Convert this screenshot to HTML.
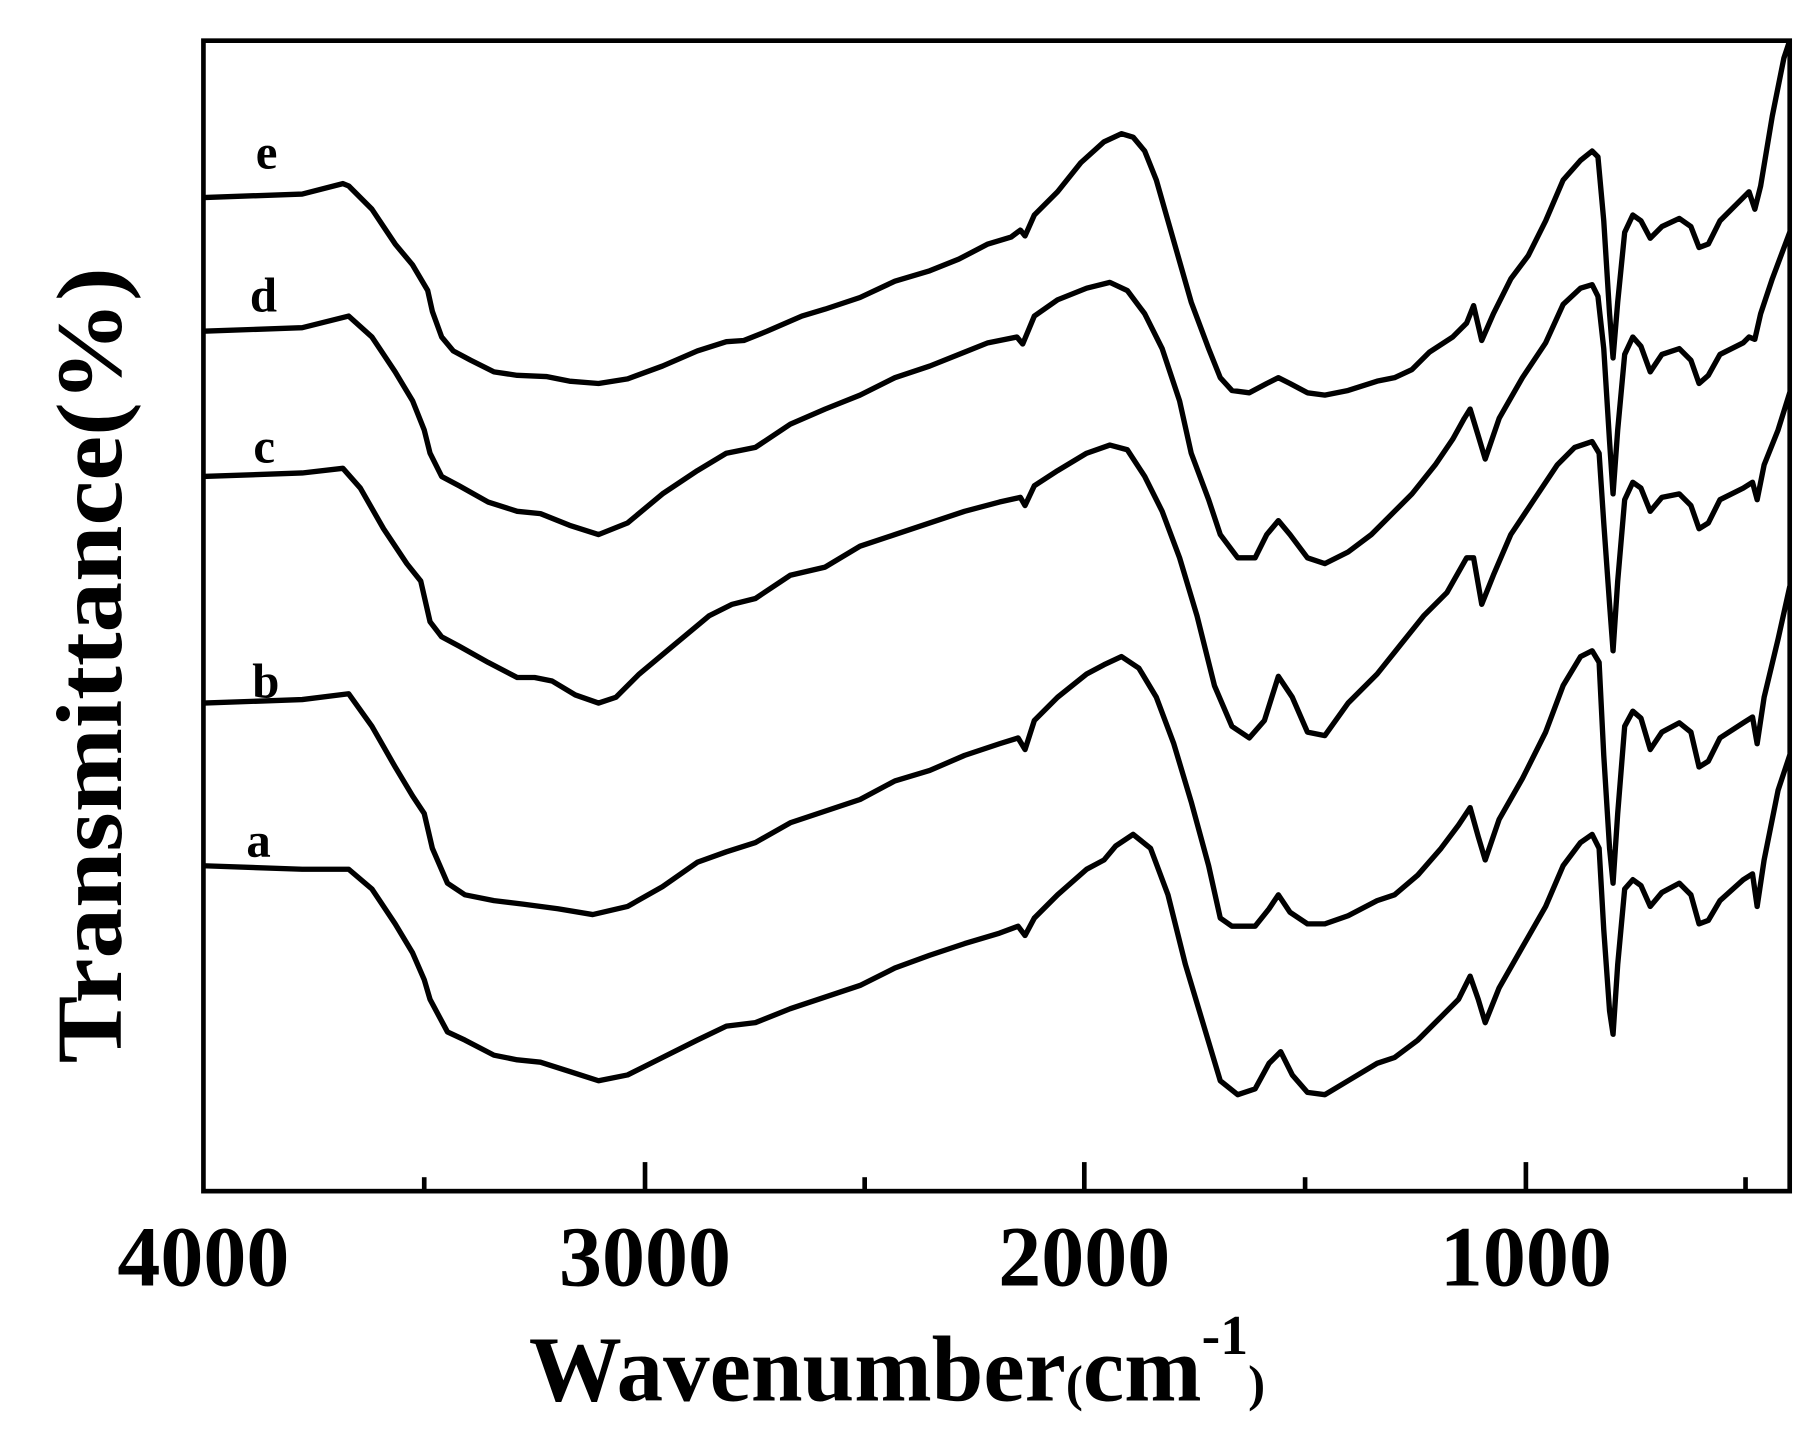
<!DOCTYPE html>
<html><head><meta charset="utf-8"><style>html,body{margin:0;padding:0;background:#fff}svg{display:block}</style></head><body>
<svg width="1813" height="1441" viewBox="0 0 1560 1240" xmlns="http://www.w3.org/2000/svg">
<rect width="1560" height="1240" fill="#fff"/>
<defs><clipPath id="c"><rect x="175" y="35" width="1365" height="990"/></clipPath></defs>
<g clip-path="url(#c)" fill="none" stroke="#000" stroke-width="4.6" stroke-linejoin="round" stroke-linecap="round">
<polyline points="175,170 260,167 295,158 300,160 320,180 340,210 355,228 368,250 372,268 380,290 390,302 405,310 425,320 445,323 470,324 490,328 515,330 540,326 570,315 600,302 625,294 640,293 660,285 690,272 710,266 740,256 770,242 800,233 825,223 850,210 870,204 878,198 882,203 890,185 910,165 930,140 950,122 965,115 975,118 985,130 995,155 1005,190 1015,225 1025,260 1040,300 1050,325 1060,336 1075,338 1090,330 1100,325 1110,330 1125,338 1140,340 1160,336 1185,328 1200,325 1215,318 1230,303 1250,290 1262,278 1268,263 1275,293 1285,270 1300,240 1315,220 1330,190 1345,155 1360,138 1370,130 1375,135 1380,190 1385,270 1388,308 1392,260 1398,200 1405,185 1412,190 1420,205 1430,195 1445,188 1455,195 1462,213 1470,210 1480,190 1495,175 1505,165 1510,180 1515,160 1525,100 1535,50 1540,35"/>
<polyline points="175,285 260,282 300,272 320,290 340,320 355,345 365,370 370,390 380,410 395,418 420,432 445,440 465,442 490,452 515,460 540,450 570,425 600,405 625,390 650,385 680,365 710,352 740,340 770,325 800,315 830,303 850,295 875,290 880,296 890,272 910,258 935,248 955,243 970,250 985,270 1000,300 1015,345 1025,390 1040,430 1050,460 1065,480 1080,480 1090,460 1100,448 1110,460 1125,480 1140,485 1160,475 1180,460 1195,445 1215,425 1235,400 1250,378 1260,360 1265,352 1272,375 1278,395 1290,360 1310,325 1330,295 1345,262 1360,248 1370,245 1375,255 1380,300 1385,380 1388,425 1392,370 1398,305 1405,290 1412,298 1420,320 1430,305 1445,300 1455,310 1462,330 1470,323 1480,305 1500,295 1505,290 1510,292 1515,270 1525,240 1540,200"/>
<polyline points="175,410 260,407 295,403 310,420 330,455 350,485 362,500 370,535 380,548 395,556 420,570 445,583 460,583 475,586 495,598 515,605 530,600 550,580 580,555 610,530 630,520 650,515 680,495 710,488 740,470 770,460 800,450 830,440 860,432 878,428 882,435 890,418 910,405 935,390 955,383 970,387 985,410 1000,440 1015,480 1030,530 1045,590 1060,625 1075,635 1088,620 1100,582 1112,600 1125,630 1140,633 1160,605 1185,580 1205,555 1225,530 1245,510 1262,480 1268,480 1275,520 1285,495 1300,460 1320,430 1340,400 1355,385 1370,380 1376,390 1380,450 1385,520 1388,560 1392,500 1398,430 1405,415 1412,420 1420,440 1430,428 1445,425 1455,435 1462,455 1470,450 1480,430 1500,420 1508,415 1512,430 1518,400 1530,370 1540,338"/>
<polyline points="175,605 260,602 300,597 320,625 340,660 355,685 365,700 372,730 385,760 400,770 425,775 450,778 480,782 510,787 540,780 570,763 600,742 625,733 650,725 680,708 710,698 740,688 770,672 800,663 830,650 860,640 876,635 882,645 890,620 910,600 935,580 950,572 965,565 980,575 995,600 1010,640 1025,690 1040,745 1050,790 1060,797 1080,797 1092,782 1100,770 1110,785 1125,795 1140,795 1160,788 1185,775 1200,770 1220,753 1240,730 1255,710 1265,695 1272,720 1278,740 1290,705 1310,670 1330,630 1345,590 1360,565 1370,560 1376,570 1380,650 1385,730 1388,760 1392,700 1398,625 1405,612 1412,618 1420,645 1430,630 1445,622 1455,630 1462,660 1470,655 1480,635 1500,622 1508,617 1512,640 1518,600 1530,550 1540,505"/>
<polyline points="175,745 260,748 300,748 320,765 340,795 355,820 365,843 370,860 385,888 400,895 425,908 445,912 465,914 490,922 515,930 540,925 570,910 600,895 625,883 650,880 680,868 710,858 740,848 770,833 800,822 830,812 860,803 876,797 882,805 890,790 910,770 935,748 950,740 960,728 975,718 990,730 1005,770 1020,830 1035,880 1050,930 1065,942 1080,937 1092,915 1102,905 1112,925 1125,940 1140,942 1160,930 1185,915 1200,910 1220,895 1240,875 1255,860 1265,840 1272,860 1278,880 1290,850 1310,815 1330,780 1345,745 1360,725 1370,718 1376,730 1380,800 1385,870 1388,890 1392,830 1398,765 1405,757 1412,762 1420,780 1430,768 1445,760 1455,770 1462,795 1470,792 1480,775 1500,757 1508,752 1512,780 1518,740 1530,680 1540,650"/>
</g>
<rect x="175" y="35" width="1365" height="990" fill="none" stroke="#000" stroke-width="4"/>
<g stroke="#000" stroke-width="4">
<line x1="365" y1="1025" x2="365" y2="1013"/><line x1="555" y1="1025" x2="555" y2="1000"/>
<line x1="744" y1="1025" x2="744" y2="1013"/><line x1="933" y1="1025" x2="933" y2="1000"/>
<line x1="1123" y1="1025" x2="1123" y2="1013"/><line x1="1313" y1="1025" x2="1313" y2="1000"/>
<line x1="1502" y1="1025" x2="1502" y2="1013"/>
</g>
<g font-family="Liberation Serif, serif" font-weight="bold" fill="#000">
<g font-size="74" text-anchor="middle">
<text x="175" y="1106" textLength="148" lengthAdjust="spacingAndGlyphs">4000</text><text x="555" y="1106" textLength="148" lengthAdjust="spacingAndGlyphs">3000</text>
<text x="933" y="1106" textLength="148" lengthAdjust="spacingAndGlyphs">2000</text><text x="1313" y="1106" textLength="148" lengthAdjust="spacingAndGlyphs">1000</text>
</g>
<text x="455" y="1205" font-size="80">Wavenumber<tspan font-size="44">(</tspan>cm<tspan font-size="48" dy="-40">-1</tspan><tspan font-size="44" dy="40">)</tspan></text>
<text transform="translate(104,915) rotate(-90)" font-size="80" textLength="685" lengthAdjust="spacingAndGlyphs">Transmittance(%)</text>
<g font-size="42">
<text x="220" y="145">e</text><text x="215" y="268">d</text><text x="218" y="398">c</text>
<text x="217" y="600">b</text><text x="212" y="737">a</text>
</g>
</g>
</svg>
</body></html>
